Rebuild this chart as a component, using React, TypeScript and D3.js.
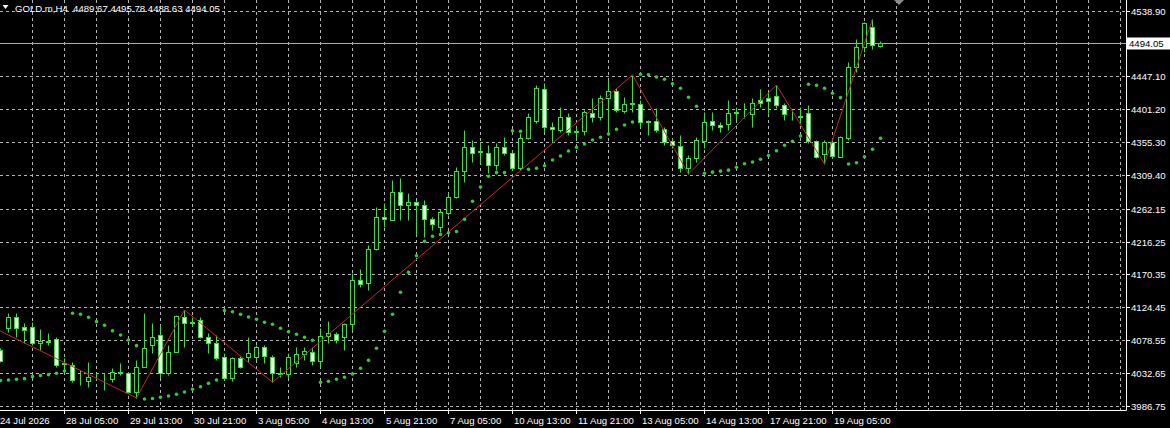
import React from "react";
import * as d3 from "d3";

// ---------- data (H4 bars, index 0 = 24 Jul 2026 21:00) ----------
const opens = [4064.9,4095.6,4111.0,4097.0,4097.0,4074.7,4077.5,4080.3,4045.4,4044.0,4024.4,4021.6,4028.6,4025.8,4024.4,4034.2,4032.8,4006.3,4041.2,4071.9,4085.9,4032.8,4062.1,4111.0,4104.0,4106.8,4083.1,4074.7,4055.2,4025.8,4053.8,4055.2,4055.2,4069.1,4055.2,4032.8,4031.4,4046.8,4059.3,4062.1,4049.6,4084.5,4087.3,4083.1,4101.2,4162.7,4158.5,4205.9,4250.6,4246.4,4285.5,4267.4,4271.6,4267.4,4247.8,4236.7,4256.2,4278.5,4314.8,4348.3,4342.8,4340.0,4323.2,4348.3,4340.0,4319.0,4360.9,4384.6,4429.3,4376.3,4372.1,4390.2,4370.0,4370.7,4395.8,4390.2,4416.8,4426.5,4398.6,4409.8,4408.4,4384.6,4384.6,4373.5,4356.7,4349.7,4319.0,4333.0,4356.7,4384.6,4379.1,4380.5,4395.8,4396.5,4394.4,4414.0,4416.8,4419.5,4407.0,4391.6,4391.6,4395.8,4356.7,4338.6,4355.3,4334.4,4360.9,4460.0,4488.0,4515.9,4489.67];
const highs = [4067.7,4116.6,4116.6,4102.6,4104.0,4094.2,4088.7,4083.1,4053.8,4048.2,4037.0,4048.2,4032.8,4032.8,4039.8,4046.8,4034.2,4051.0,4116.6,4102.6,4099.8,4071.9,4113.8,4120.8,4111.0,4111.0,4088.7,4085.9,4060.7,4055.2,4056.6,4083.1,4071.9,4071.9,4057.9,4041.2,4060.7,4069.1,4069.1,4069.1,4095.6,4105.4,4090.1,4102.6,4172.4,4178.0,4211.5,4264.6,4270.2,4302.3,4305.1,4284.1,4274.4,4274.4,4250.6,4261.8,4284.1,4320.4,4372.1,4358.1,4355.3,4351.1,4353.9,4362.3,4344.2,4367.9,4395.8,4434.9,4437.7,4383.2,4404.2,4395.8,4376.3,4400.0,4416.8,4420.9,4441.9,4430.7,4418.2,4448.9,4414.0,4386.0,4402.8,4376.3,4360.9,4365.1,4337.2,4362.3,4397.2,4397.2,4383.2,4414.0,4404.2,4409.8,4416.8,4429.3,4425.1,4434.9,4409.8,4400.0,4404.2,4407.0,4358.1,4358.1,4358.1,4363.7,4467.0,4499.1,4522.9,4527.0,4495.78];
const lows = [4048.2,4090.1,4083.1,4074.7,4071.9,4064.9,4071.9,4041.2,4037.0,4020.2,4016.1,4013.3,4023.0,4009.1,4020.2,4030.0,4004.9,3997.9,4041.2,4060.7,4025.8,4030.0,4062.1,4069.1,4098.4,4081.7,4060.7,4051.0,4023.0,4021.6,4039.8,4048.2,4051.0,4046.8,4019.8,4027.2,4025.8,4041.2,4051.0,4044.0,4041.2,4074.7,4074.7,4064.9,4092.9,4152.9,4148.7,4204.5,4236.7,4246.4,4246.4,4246.4,4225.5,4222.7,4232.5,4229.7,4253.4,4277.1,4299.5,4327.4,4326.0,4312.0,4316.2,4337.2,4316.2,4316.2,4359.5,4381.8,4369.3,4355.3,4369.3,4365.1,4360.9,4365.1,4383.2,4386.0,4365.1,4397.2,4395.8,4397.2,4376.3,4365.1,4369.3,4351.1,4346.9,4313.4,4310.6,4327.4,4346.9,4372.1,4369.3,4372.1,4386.0,4388.8,4376.3,4404.2,4395.8,4402.8,4386.0,4386.0,4381.8,4353.9,4333.0,4324.6,4334.4,4334.4,4358.1,4453.1,4481.0,4485.2,4488.63];
const closes = [4049.6,4111.0,4095.6,4092.9,4074.7,4077.5,4076.1,4044.0,4046.8,4023.0,4023.8,4027.2,4028.0,4025.5,4034.2,4032.8,4006.3,4041.2,4067.7,4083.1,4032.8,4062.1,4112.4,4102.6,4102.6,4083.1,4074.7,4053.8,4025.8,4053.8,4041.2,4060.7,4069.1,4056.6,4032.8,4031.4,4055.2,4059.3,4063.5,4049.6,4084.5,4088.7,4078.9,4101.2,4162.7,4157.1,4205.9,4250.6,4247.8,4285.5,4267.4,4271.6,4267.4,4247.8,4240.8,4257.6,4278.5,4314.8,4348.3,4340.0,4341.4,4323.2,4348.3,4340.0,4319.0,4360.9,4390.2,4430.7,4376.3,4373.5,4390.2,4369.3,4369.3,4397.2,4390.2,4416.8,4426.5,4400.0,4408.4,4408.4,4383.2,4383.9,4372.1,4355.3,4351.1,4319.0,4333.0,4358.1,4383.2,4379.1,4376.3,4395.8,4396.5,4397.2,4409.8,4409.8,4412.6,4407.0,4394.4,4391.4,4390.9,4356.7,4334.4,4355.3,4335.8,4362.3,4460.0,4488.0,4521.5,4490.7,4494.05];
const sar = [4022.4,4023.0,4024.0,4024.9,4027.7,4029.3,4030.5,4032.4,4035.6,4116.2,4114.8,4110.6,4104.5,4099.4,4091.9,4085.9,4078.9,4071.0,3996.5,3997.2,3998.9,4000.7,4003.1,4006.3,4010.1,4013.7,4018.4,4023.0,4120.1,4118.4,4114.8,4111.0,4107.8,4103.6,4100.8,4095.2,4090.5,4086.9,4082.7,4078.5,4019.8,4021.2,4024.0,4026.8,4031.4,4039.4,4050.5,4067.3,4091.0,4114.8,4145.5,4173.4,4196.6,4216.7,4223.7,4226.2,4228.7,4230.4,4247.4,4272.5,4292.5,4307.4,4312.5,4312.5,4371.1,4370.3,4317.2,4318.6,4322.2,4330.2,4335.8,4342.8,4347.9,4352.5,4358.1,4361.9,4366.5,4373.1,4379.1,4383.2,4449.8,4449.3,4446.1,4442.9,4436.7,4430.3,4417.7,4405.2,4311.6,4313.2,4314.6,4316.0,4320.1,4324.9,4327.4,4331.3,4336.5,4343.0,4350.8,4356.4,4363.7,4435.9,4434.5,4430.3,4423.3,4417.2,4324.6,4326.4,4334.8,4345.1,4360.5];
const zigzagBars = [-6, 17, 23, 34, 79, 86, 97, 103, 109];
const zigzagPrices = [4124.2, 3997.9, 4120.8, 4019.8, 4448.9, 4310.6, 4434.9, 4324.6, 4527.0];
const priceTicks = [4538.90, 4493.00, 4447.10, 4401.20, 4355.30, 4309.40, 4262.15, 4216.25, 4170.35, 4124.45, 4078.55, 4032.65, 3986.75];
const timeTickBars = [0, 8, 16, 24, 32, 40, 48, 56, 64, 72, 80, 88, 96, 104];
const timeTickLabels = ["24 Jul 2026", "28 Jul 05:00", "29 Jul 13:00", "30 Jul 21:00", "3 Aug 05:00", "4 Aug 13:00", "5 Aug 21:00", "7 Aug 05:00", "10 Aug 13:00", "11 Aug 21:00", "13 Aug 05:00", "14 Aug 13:00", "17 Aug 21:00", "19 Aug 05:00"];
const symbol = "GOLD.m,H4";
const lastBid = 4494.05;

// ---------- layout ----------
const W = 1170, H = 428;
const plotRight = 1126;
const plotBottom = 410;

const x = d3.scaleLinear().domain([0, 140]).range([0.5, 1120.5]);
const y = d3.scaleLinear().domain([3986.75, 4538.9]).range([406, 10.5]);
const py = (v: number) => Math.round(y(v)) + 0.5;

const GREEN = "#3ae03a";
const SAR_GREEN = "#33cc33";
const GRID = "#b4b4b4";

export default function App() {
  const gridBars = d3.range(4, 141, 4);
  const zz = d3.line<number>().x((_, i) => x(zigzagBars[i])).y((v) => y(v))(zigzagPrices) || "";
  const fmt = d3.format(".2f");

  return (
    <svg width={W} height={H} style={{ position: "fixed", left: 0, top: 0, display: "block" }}
      fontFamily="'Liberation Sans', Arial, sans-serif" fontSize={9.6}>
      <defs>
        <clipPath id="plotClip"><rect x={0} y={0} width={plotRight} height={plotBottom} /></clipPath>
      </defs>
      <rect x={0} y={0} width={W} height={H} fill="#000" />

      {/* grid */}
      <g stroke={GRID} strokeWidth={1} strokeDasharray="3,3">
        {priceTicks.map((t) => (
          <line key={"h" + t} x1={0} x2={plotRight} y1={py(t)} y2={py(t)} />
        ))}
        {gridBars.map((b) => (
          <line key={"v" + b} x1={x(b)} x2={x(b)} y1={0} y2={plotBottom} />
        ))}
      </g>

      {/* bid line */}
      <line x1={0} x2={plotRight} y1={py(lastBid)} y2={py(lastBid)} stroke="#a8a8a8" strokeWidth={1} />

      <g clipPath="url(#plotClip)">
        {/* candles */}
        {opens.map((o, i) => {
          const c = closes[i];
          const cx = x(i);
          const top = py(Math.max(o, c));
          const bot = py(Math.min(o, c));
          return (
            <g key={"c" + i}>
              <line x1={cx} x2={cx} y1={py(highs[i])} y2={py(lows[i])} stroke={GREEN} strokeWidth={1} />
              <rect x={cx - 2} width={4} y={top} height={Math.max(0, bot - top)}
                fill={c >= o ? "#000" : "#f4fff4"} stroke={GREEN} strokeWidth={1} />
            </g>
          );
        })}
        {/* zigzag */}
        <path d={zz} fill="none" stroke="#c82828" strokeWidth={1} />
        {/* parabolic SAR */}
        {sar.map((v, i) => (
          <circle key={"s" + i} cx={x(i)} cy={y(v)} r={1.8} fill={SAR_GREEN} />
        ))}
      </g>

      {/* frame */}
      <line x1={plotRight + 0.5} x2={plotRight + 0.5} y1={0} y2={plotBottom + 0.5} stroke="#fff" />
      <line x1={0} x2={plotRight + 0.5} y1={plotBottom + 0.5} y2={plotBottom + 0.5} stroke="#fff" />

      {/* price axis */}
      {priceTicks.map((t) => (
        <g key={"pt" + t}>
          <line x1={plotRight} x2={plotRight + 4} y1={py(t)} y2={py(t)} stroke="#fff" />
          <text x={plotRight + 5} y={py(t) + 3.5} fill="#fff">{fmt(t)}</text>
        </g>
      ))}
      <rect x={plotRight + 1} y={py(lastBid) - 6} width={43} height={12} fill="#fff" />
      <text x={plotRight + 3} y={py(lastBid) + 3.5} fill="#000">{fmt(lastBid)}</text>

      {/* time axis */}
      {timeTickBars.map((b, i) => (
        <g key={"tt" + b}>
          {i > 0 && <line x1={x(b)} x2={x(b)} y1={plotBottom} y2={plotBottom + 4} stroke="#fff" />}
          <text x={i === 0 ? 0 : x(b) + 1.5} y={424} fill="#fff">{timeTickLabels[i]}</text>
        </g>
      ))}

      {/* header */}
      <polygon points="2.5,5 8.5,5 5.5,9" fill="#fff" />
      <text x={15} y={11.5} fill="#fff" style={{ whiteSpace: "pre" }}>
        {`${symbol}  ${fmt(opens[opens.length - 1])} ${fmt(highs[highs.length - 1])} ${fmt(lows[lows.length - 1])} ${fmt(closes[closes.length - 1])}`}
      </text>

      {/* chart shift marker */}
      <polygon points="894,0 904,0 899,5" fill="#8a8a8a" />
    </svg>
  );
}
